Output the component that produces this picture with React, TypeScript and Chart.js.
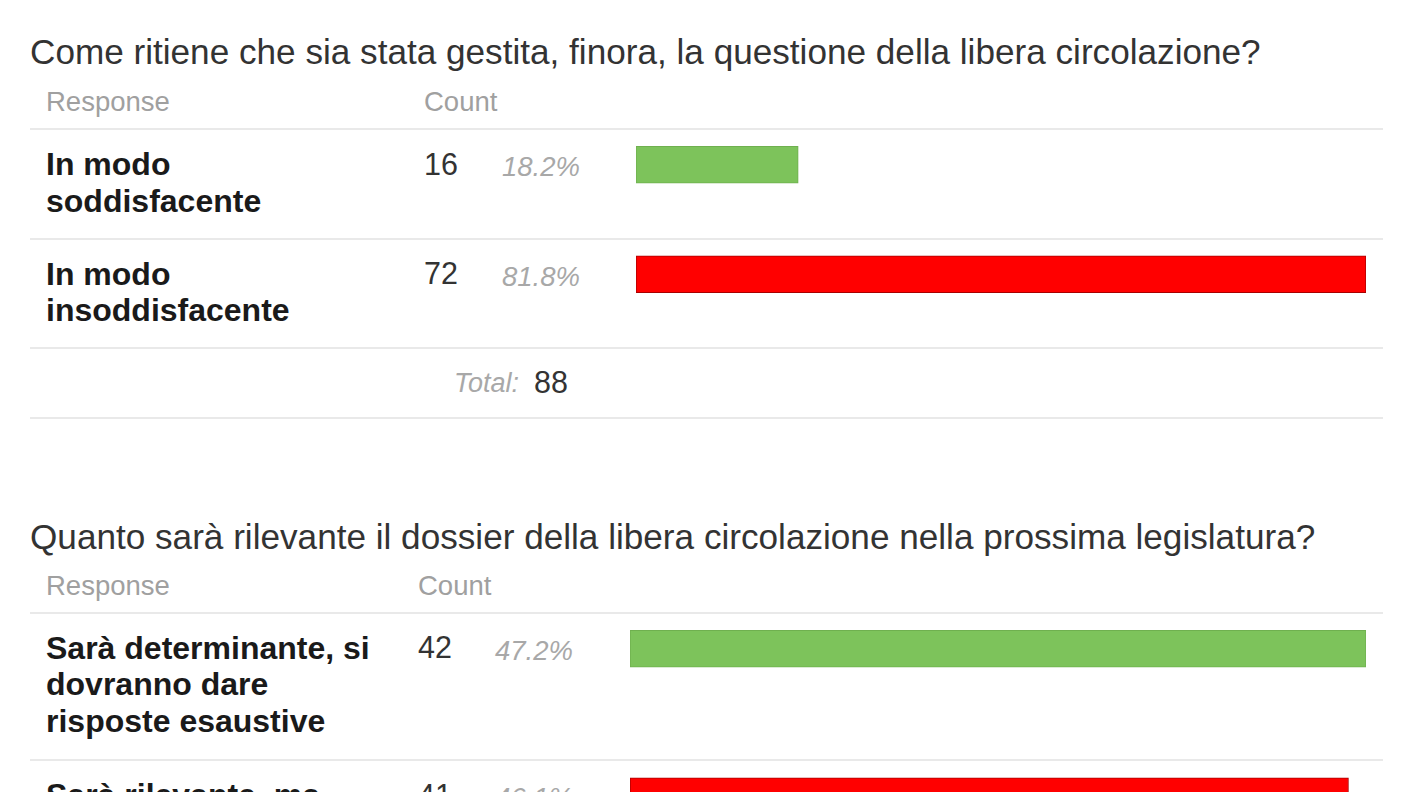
import React, { useEffect, useRef } from "react";
import { Chart, registerables } from "chart.js";

Chart.register(...registerables);

// ---------- data ----------
const headerLabels = ["Response", "Count"];
const totalLabel = "Total:";

const q1Title = "Come ritiene che sia stata gestita, finora, la questione della libera circolazione?";
const q1Responses = [["In modo", "soddisfacente"], ["In modo", "insoddisfacente"]];
const q1Counts = [16, 72];
const q1Percents = ["18.2%", "81.8%"];
const q1Total = 88;

const q2Title = "Quanto sarà rilevante il dossier della libera circolazione nella prossima legislatura?";
const q2Responses = [["Sarà determinante, si", "dovranno dare", "risposte esaustive"], ["Sarà rilevante, ma"]];
const q2Counts = [42, 41];
const q2Percents = ["47.2%", "46.1%"];

const barColors = ["#7dc35b", "#ff0000"];
const barBorders = ["#6fb04f", "#a80000"];

// ---------- styles ----------
const FONT = '"Liberation Sans", Arial, Helvetica, sans-serif';

type TextProps = {
  x: number;
  baseline: number;
  size: number;
  lh?: number;
  color: string;
  bold?: boolean;
  italic?: boolean;
  align?: "left" | "right";
  children: React.ReactNode;
};

function Txt({ x, baseline, size, lh, color, bold, italic, align, children }: TextProps) {
  const L = lh ?? size;
  const top = baseline - L / 2 - 0.3465 * size;
  const style: React.CSSProperties = {
    position: "absolute",
    top,
    fontFamily: FONT,
    fontSize: size,
    lineHeight: `${L}px`,
    color,
    fontWeight: bold ? 700 : 400,
    fontStyle: italic ? "italic" : "normal",
    whiteSpace: "nowrap",
    margin: 0,
  };
  if (align === "right") {
    style.right = 1408 - x;
    style.textAlign = "right";
  } else {
    style.left = x;
  }
  return <div style={style}>{children}</div>;
}

function HLine({ y }: { y: number }) {
  return (
    <div
      style={{
        position: "absolute",
        left: 30,
        width: 1353,
        top: y,
        height: 2,
        background: "#e9e9e9",
      }}
    />
  );
}

type BarsProps = {
  labels: string[];
  counts: number[];
  left: number;
  top: number;
  width: number;
  height: number;
};

function Bars({ labels, counts, left, top, width, height }: BarsProps) {
  const ref = useRef<HTMLCanvasElement | null>(null);
  useEffect(() => {
    if (!ref.current) return;
    const chart = new Chart(ref.current, {
      type: "bar",
      data: {
        labels,
        datasets: [
          {
            data: counts,
            backgroundColor: barColors.slice(0, counts.length),
            borderColor: barBorders.slice(0, counts.length),
            borderWidth: 1,
            borderSkipped: false,
            barThickness: 37,
          },
        ],
      },
      options: {
        indexAxis: "y",
        responsive: false,
        maintainAspectRatio: false,
        animation: false,
        devicePixelRatio: 1,
        layout: { padding: 0 },
        plugins: { legend: { display: false }, tooltip: { enabled: false } },
        scales: {
          x: { type: "linear", min: 0, max: Math.max(...counts), display: false },
          y: { type: "category", display: false, offset: true },
        },
      },
    });
    return () => chart.destroy();
  }, []);
  return (
    <canvas
      ref={ref}
      width={width}
      height={height}
      style={{ position: "absolute", left, top, width, height, display: "block" }}
    />
  );
}

type SectionProps = {
  title: string;
  responses: string[][];
  counts: number[];
  percents: string[];
  total?: number;
  titleBase: number;
  headerBase: number;
  lineTop: number;
  rowH: number;
  textOffset: number;
  barOffset: number;
  countX: number;
  pctX: number;
  barX: number;
  barRight: number;
};

function Section(p: SectionProps) {
  const n = p.responses.length;
  const lines: number[] = [];
  for (let i = 0; i <= n; i++) lines.push(p.lineTop + i * p.rowH);
  const totalTop = p.lineTop + n * p.rowH;
  return (
    <>
      <Txt x={30} baseline={p.titleBase} size={35.15} color="#333">
        {p.title}
      </Txt>
      <Txt x={46} baseline={p.headerBase} size={27.5} color="#a0a0a0">
        {headerLabels[0]}
      </Txt>
      <Txt x={p.countX} baseline={p.headerBase} size={27.5} color="#a0a0a0">
        {headerLabels[1]}
      </Txt>
      {lines.map((y, i) => (
        <HLine key={"l" + i} y={y} />
      ))}
      {p.total !== undefined && <HLine y={totalTop + 70} />}
      {p.responses.map((r, i) => {
        const rowTop = p.lineTop + i * p.rowH;
        const base = rowTop + p.textOffset;
        return (
          <React.Fragment key={"r" + i}>
            <Txt x={46} baseline={base} size={32} lh={36.7} color="#1a1a1a" bold>
              {r.map((line, j) => (
                <div key={j}>{line}</div>
              ))}
            </Txt>
            <Txt x={p.countX} baseline={base - 1} size={30.5} color="#333">
              {String(p.counts[i])}
            </Txt>
            <Txt x={p.pctX} baseline={base + 1} size={27.5} color="#a8a8a8" italic>
              {p.percents[i]}
            </Txt>
          </React.Fragment>
        );
      })}
      {p.total !== undefined && (
        <>
          <Txt x={519} baseline={totalTop + 46} size={27} color="#a8a8a8" italic align="right">
            {totalLabel}
          </Txt>
          <Txt x={534} baseline={totalTop + 46} size={30.5} color="#333">
            {String(p.total)}
          </Txt>
        </>
      )}
      <Bars
        labels={p.responses.map((r) => r.join(" "))}
        counts={p.counts}
        left={p.barX}
        top={p.lineTop + p.barOffset - p.rowH / 2}
        width={p.barRight - p.barX}
        height={p.rowH * n}
      />
    </>
  );
}

export default function App() {
  return (
    <div
      style={{
        position: "fixed",
        left: 0,
        top: 0,
        width: 1408,
        height: 792,
        overflow: "hidden",
        background: "#ffffff",
      }}
    >
      <Section
        title={q1Title}
        responses={q1Responses}
        counts={q1Counts}
        percents={q1Percents}
        total={q1Total}
        titleBase={63.5}
        headerBase={111}
        lineTop={128}
        rowH={109.5}
        textOffset={47.5}
        barOffset={37}
        countX={424}
        pctX={502}
        barX={636}
        barRight={1366}
      />
      <Section
        title={q2Title}
        responses={q2Responses}
        counts={q2Counts}
        percents={q2Percents}
        titleBase={549}
        headerBase={595}
        lineTop={611.5}
        rowH={147.5}
        textOffset={47.5}
        barOffset={37}
        countX={418}
        pctX={495}
        barX={630}
        barRight={1366}
      />
    </div>
  );
}
